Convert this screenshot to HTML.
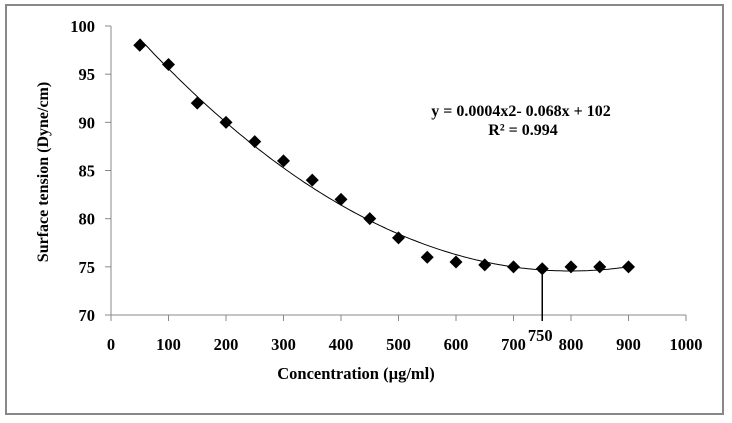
<!DOCTYPE html>
<html><head><meta charset="utf-8"><style>
body{margin:0;background:#fff;}
svg text{font-family:"Liberation Serif",serif;font-weight:bold;fill:#000;}
</style></head><body>
<svg id="c" width="732" height="418">
<rect x="6" y="5" width="717" height="409" fill="#fff" stroke="#888" stroke-width="2"/>
<g id="axes"></g><g id="marks"></g>
<text x="521" y="116" font-size="16" text-anchor="middle">y = 0.0004x2- 0.068x + 102</text>
<text x="523" y="135" font-size="16" text-anchor="middle">R² = 0.994</text>
<text x="356" y="379" font-size="16.5" text-anchor="middle">Concentration (µg/ml)</text>
<text transform="translate(48,172) rotate(-90)" font-size="16" text-anchor="middle">Surface tension  (Dyne/cm)</text>
</svg>
<script>
const concentrations=[50,100,150,200,250,300,350,400,450,500,550,600,650,700,750,800,850,900];
const tensions=[98,96,92,90,88,86,84,82,80,78,76,75.5,75.2,75,74.8,75,75,75];
const xTicks=[0,100,200,300,400,500,600,700,800,900,1000];
const yTicks=[70,75,80,85,90,95,100];
const cmcValue=750;
const X=v=>111+v*0.575, Y=v=>315-(v-70)*(289/30);
const NS="http://www.w3.org/2000/svg";
const ax=document.getElementById('axes'), mk=document.getElementById('marks');
function el(t,a,p){const e=document.createElementNS(NS,t);for(const k in a)e.setAttribute(k,a[k]);p.appendChild(e);return e;}
let l=el('line',{x1:111,y1:Y(100),x2:111,y2:Y(70),stroke:'#888'},ax);


l=el('line',{x1:111,y1:Y(70),x2:X(1000),y2:Y(70),stroke:'#888'},ax);


yTicks.forEach(v=>{el('line',{x1:105,x2:111,y1:Y(v),y2:Y(v),stroke:'#888'},ax);
const t=el('text',{x:95,y:Y(v)+6,'font-size':16.5,'text-anchor':'end'},ax);t.textContent=v;

});
xTicks.forEach(v=>{el('line',{x1:X(v),x2:X(v),y1:Y(70),y2:Y(70)+6,stroke:'#888'},ax);
const t=el('text',{x:X(v),y:350,'font-size':16.5,'text-anchor':'middle'},ax);t.textContent=v;

});
let n=concentrations.length,S=[0,0,0,0,0],T=[0,0,0];
concentrations.forEach((x,i)=>{const y=tensions[i];for(let k=0;k<5;k++)S[k]+=Math.pow(x,k);for(let k=0;k<3;k++)T[k]+=y*Math.pow(x,k);});
const M=[[S[0],S[1],S[2],T[0]],[S[1],S[2],S[3],T[1]],[S[2],S[3],S[4],T[2]]];
for(let i=0;i<3;i++){for(let j=i+1;j<3;j++){const f=M[j][i]/M[i][i];for(let k=i;k<4;k++)M[j][k]-=f*M[i][k];}}
const c=[0,0,0];for(let i=2;i>=0;i--){let s=M[i][3];for(let k=i+1;k<3;k++)s-=M[i][k]*c[k];c[i]=s/M[i][i];}
let d='';const x0=concentrations[0],x1=concentrations[n-1];
for(let x=x0;x<=x1;x+=5){d+=(d?'L':'M')+X(x).toFixed(1)+','+Y(c[0]+c[1]*x+c[2]*x*x).toFixed(1);}
const tr=el('path',{d:d,fill:'none',stroke:'#000','stroke-width':1},mk);


concentrations.forEach((x,i)=>{const cx=X(x),cy=Y(tensions[i]);
const p=el('polygon',{points:`${cx},${cy-6.5} ${cx+6.5},${cy} ${cx},${cy+6.5} ${cx-6.5},${cy}`,fill:'#000'},mk);

});
const cl=el('line',{x1:X(cmcValue),x2:X(cmcValue),y1:Y(74.8),y2:Y(70)+6,stroke:'#000','stroke-width':1.5},mk);


el('polygon',{points:`${X(cmcValue)},${Y(75)-3} ${X(cmcValue)+4},${Y(75)+5} ${X(cmcValue)-4},${Y(75)+5}`,fill:'#000'},mk);
const ct=el('text',{x:X(cmcValue)-2,y:341,'font-size':16.5,'text-anchor':'middle'},mk);ct.textContent=cmcValue;


</script>
</body></html>
